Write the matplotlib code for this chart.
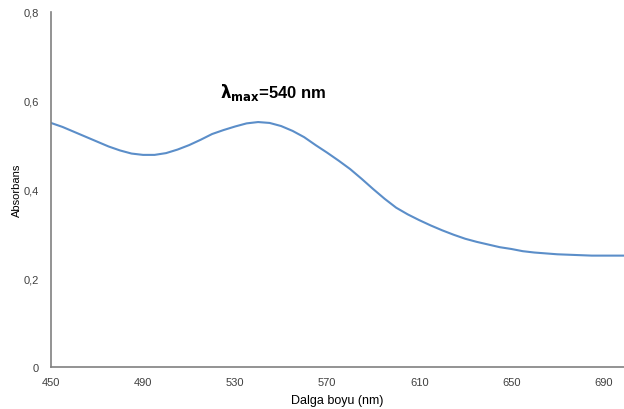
import matplotlib
matplotlib.use('Agg')
import matplotlib.pyplot as plt
from matplotlib.ticker import FuncFormatter

plt.rcParams['font.family'] = ['Liberation Sans', 'DejaVu Sans']

# wavelength (nm) and absorbance
wavelength = list(range(450, 705, 5))
absorbance = [0.550, 0.541, 0.530, 0.519, 0.508, 0.497, 0.488, 0.481, 0.478,
              0.478, 0.482, 0.490, 0.500, 0.512, 0.525, 0.534, 0.542, 0.549,
              0.552, 0.550, 0.543, 0.532, 0.518, 0.500, 0.483, 0.465, 0.446,
              0.424, 0.401, 0.379, 0.359, 0.344, 0.331, 0.319, 0.308, 0.298,
              0.289, 0.282, 0.276, 0.270, 0.266, 0.261, 0.258, 0.256, 0.254,
              0.253, 0.252, 0.251, 0.251, 0.251, 0.251]
xticks = [450, 490, 530, 570, 610, 650, 690]
yticks = [0, 0.2, 0.4, 0.6, 0.8]

fig = plt.figure(figsize=(6.24, 4.10), dpi=100)
ax = fig.add_axes([51/624, 42/410, 573/624, 355/410])
ax.plot(wavelength, absorbance, color='#5b8ec9', lw=1.5)

ax.set_xlim(450, 699)
ax.set_ylim(0, 0.8)
ax.set_xticks(xticks)
ax.set_yticks(yticks)
ax.yaxis.set_major_formatter(FuncFormatter(lambda v, p: '0' if v == 0 else ('%.1f' % v).replace('.', ',')))
ax.tick_params(length=0, labelsize=8, colors='#404040', pad=7)
ax.tick_params(axis='y', pad=9)

for s in ['top', 'right']:
    ax.spines[s].set_visible(False)
for s in ['left', 'bottom']:
    ax.spines[s].set_color('#808080')
    ax.spines[s].set_linewidth(1.2)

ax.set_xlabel('Dalga boyu (nm)', fontsize=9, labelpad=5)
ax.set_ylabel('Absorbans', fontsize=8, labelpad=1)

ax.text(546.5, 0.62, r'$\mathbf{\lambda}_{\mathbf{max}}$=540 nm', fontsize=12,
        fontweight='bold', ha='center', va='center')

fig.savefig('out.png', dpi=100)
